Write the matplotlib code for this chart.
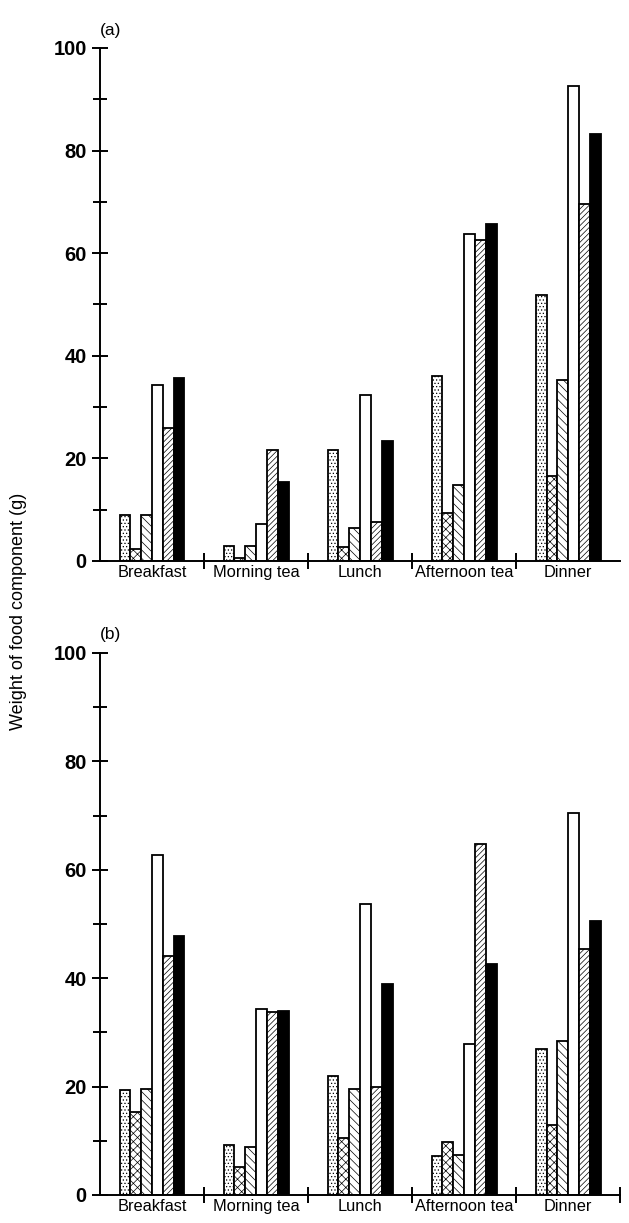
import matplotlib
matplotlib.use("Agg")
import matplotlib.pyplot as plt
import numpy as np

plt.rcParams['font.family'] = ['Liberation Sans', 'DejaVu Sans']
plt.rcParams['hatch.linewidth'] = 0.5

meals = ['Breakfast', 'Morning tea', 'Lunch', 'Afternoon tea', 'Dinner']

# six food components per meal, same order in both panels
a_dotted = [9.0, 3.0, 21.6, 36.0, 51.9]
a_cross = [2.3, 0.6, 2.7, 9.3, 16.5]
a_back = [9.0, 3.0, 6.4, 14.8, 35.2]
a_white = [34.4, 7.3, 32.3, 63.8, 92.6]
a_fwd = [25.9, 21.6, 7.6, 62.6, 69.6]
a_black = [35.7, 15.4, 23.4, 65.6, 83.3]

b_dotted = [19.3, 9.3, 22.0, 7.2, 26.9]
b_cross = [15.4, 5.2, 10.5, 9.8, 12.9]
b_back = [19.6, 8.9, 19.6, 7.4, 28.5]
b_white = [62.7, 34.4, 53.6, 27.9, 70.4]
b_fwd = [44.1, 33.8, 20.0, 64.8, 45.4]
b_black = [47.8, 34.0, 39.0, 42.6, 50.5]

styles = [('white', '.....'), ('white', 'xxxx'), ('white', '\\\\\\\\'),
          ('white', ''), ('white', '//////'), ('black', '')]


def draw_panel(ax, series, letter, end_tick):
    x = np.arange(len(meals)) + 0.5
    w = 0.104
    for k, vals in enumerate(series):
        fc, h = styles[k]
        ax.bar(x + (k - 2.5) * w, vals, width=w, color=fc, edgecolor='black',
               hatch=h, linewidth=1.3, zorder=2)

    ax.set_xlim(0, 5)
    ax.set_ylim(0, 100)
    for s in ['top', 'right']:
        ax.spines[s].set_visible(False)
    ax.spines['left'].set_linewidth(1.4)
    ax.spines['bottom'].set_linewidth(1.4)

    ax.set_yticks(np.arange(0, 101, 20))
    ax.set_yticks(np.arange(10, 100, 20), minor=True)
    ax.tick_params(axis='y', which='major', direction='inout', length=12,
                   width=1.4, labelsize=14.5)
    ax.tick_params(axis='y', which='minor', direction='inout', length=10,
                   width=1.4)
    for t in ax.get_yticklabels():
        t.set_fontweight('bold')

    seps = [1, 2, 3, 4, 5] if end_tick else [1, 2, 3, 4]
    ax.set_xticks(seps)
    ax.set_xticklabels([])
    ax.set_xticks(x, minor=True)
    ax.set_xticklabels(meals, minor=True, fontsize=11.8)
    ax.tick_params(axis='x', which='major', direction='inout', length=12,
                   width=1.4)
    ax.tick_params(axis='x', which='minor', length=0, pad=3)

    ax.text(0.0, 1.02, letter, transform=ax.transAxes, fontsize=12.5,
            ha='left', va='bottom')


fig = plt.figure(figsize=(6.29, 12.23), dpi=100)
ax1 = fig.add_axes([0.159, 0.5413, 0.827, 0.4195])
ax2 = fig.add_axes([0.159, 0.0229, 0.827, 0.4432])

draw_panel(ax1, [a_dotted, a_cross, a_back, a_white, a_fwd, a_black], '(a)', False)
draw_panel(ax2, [b_dotted, b_cross, b_back, b_white, b_fwd, b_black], '(b)', True)

fig.text(0.03, 0.5, 'Weight of food component (g)', rotation=90,
         ha='center', va='center', fontsize=13)

fig.savefig('out.png', dpi=100)
